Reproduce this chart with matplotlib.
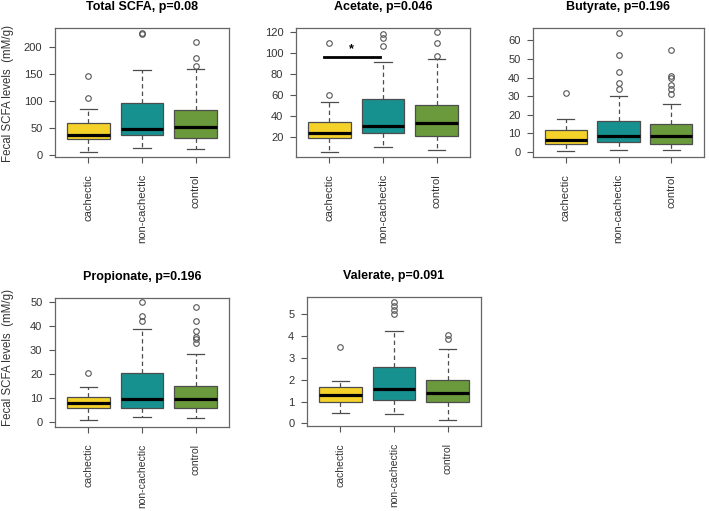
import matplotlib
matplotlib.use('Agg')

import matplotlib.pyplot as plt

plt.rcParams['font.family'] = ['Liberation Sans', 'DejaVu Sans']

groups = ['cachectic', 'non-cachectic', 'control']
colors = ['#F4D22A', '#17918F', '#6A9A3B']

# Total SCFA
total_whislo = [6, 13.5, 11]
total_q1 = [29.5, 38, 32]
total_med = [38, 49, 52]
total_q3 = [58.5, 97, 83]
total_whishi = [85, 157, 159]
total_fliers = [[106, 147], [223, 226], [165, 179, 209]]
total_ticks = [0, 50, 100, 150, 200]

# Acetate
acetate_whislo = [5.6, 10.4, 7.2]
acetate_q1 = [18.4, 23.8, 20.3]
acetate_med = [23.8, 30.5, 33.4]
acetate_q3 = [34.4, 56, 50.4]
acetate_whishi = [53.5, 91.2, 94.4]
acetate_fliers = [[59.6, 110], [106.3, 114, 118.4], [97.6, 109.5, 119.7]]
acetate_ticks = [20, 40, 60, 80, 100, 120]

# Butyrate
butyrate_whislo = [0.4, 1.2, 0.9]
butyrate_q1 = [4.5, 5.3, 4.5]
butyrate_med = [6.2, 8.7, 8.7]
butyrate_q3 = [11.9, 16.4, 15]
butyrate_whishi = [17.6, 30.1, 25.8]
butyrate_fliers = [[31.5], [33.6, 37.2, 43.1, 52, 63.9], [31.2, 33.6, 36, 39.9, 40.8, 54.7]]
butyrate_ticks = [0, 10, 20, 30, 40, 50, 60]

# Propionate
propionate_whislo = [1, 2.4, 1.7]
propionate_q1 = [5.8, 5.8, 6.1]
propionate_med = [8.2, 9.7, 9.7]
propionate_q3 = [10.7, 20.4, 15]
propionate_whishi = [14.9, 38.75, 28.6]
propionate_fliers = [[20.4], [42.4, 44.3, 50.1], [32.9, 34.6, 35.4, 38.2, 42.4, 48.2]]
propionate_ticks = [0, 10, 20, 30, 40, 50]

# Valerate
valerate_whislo = [0.46, 0.43, 0.15]
valerate_q1 = [0.99, 1.07, 0.99]
valerate_med = [1.3, 1.59, 1.41]
valerate_q3 = [1.68, 2.57, 1.99]
valerate_whishi = [1.94, 4.25, 3.41]
valerate_fliers = [[3.49], [5.02, 5.2, 5.38, 5.58], [3.85, 4.05]]
valerate_ticks = [0, 1, 2, 3, 4, 5]

W, H = 709, 511
fig = plt.figure(figsize=(W / 100, H / 100), dpi=100)
edge = '#4d4d4d'


def px_rect(x0, y0, x1, y1):
    return [x0 / W, (H - y1) / H, (x1 - x0) / W, (y1 - y0) / H]


def draw_panel(rect, title, whislo, q1, med, q3, whishi, fliers, ticks, ylim, xsize=8):
    ax = fig.add_axes(px_rect(*rect))
    stats = []
    for i in range(len(groups)):
        stats.append(dict(whislo=whislo[i], q1=q1[i], med=med[i], q3=q3[i],
                          whishi=whishi[i], fliers=fliers[i]))
    bp = ax.bxp(stats, positions=[1, 2, 3], widths=0.8, patch_artist=True,
                capwidths=0.32,
                boxprops=dict(edgecolor=edge, linewidth=0.9),
                medianprops=dict(color='black', linewidth=2.3),
                whiskerprops=dict(color=edge, linestyle=(0, (3.5, 2.5)), linewidth=0.9),
                capprops=dict(color=edge, linewidth=0.9),
                flierprops=dict(marker='o', markerfacecolor='none',
                                markeredgecolor='#555555', markersize=4,
                                markeredgewidth=0.8))
    for patch, c in zip(bp['boxes'], colors):
        patch.set_facecolor(c)
    ax.set_xlim(0.375, 3.625)
    ax.set_ylim(*ylim)
    ax.set_yticks(ticks)
    ax.set_xticks([1, 2, 3])
    ax.set_xticklabels(groups, rotation=90, va='top')
    ax.tick_params(axis='x', length=4.3, width=0.8, color='#555555', pad=8,
                   labelsize=xsize, labelcolor='#333333')
    ax.tick_params(axis='y', length=4.1, width=0.8, color='#555555', pad=5,
                   labelsize=8, labelcolor='#333333')
    for sp in ax.spines.values():
        sp.set_color('#666666')
        sp.set_linewidth(0.9)
    ax.annotate(title, xy=(0.5, 1), xycoords='axes fraction',
                xytext=(0, 14.8), textcoords='offset points',
                ha='center', va='center', fontsize=9, fontweight='bold')
    return ax


draw_panel((55, 28, 229, 157), 'Total SCFA, p=0.08', total_whislo, total_q1,
           total_med, total_q3, total_whishi, total_fliers, total_ticks, (-3.5, 235))
ax2 = draw_panel((296, 28, 470, 157), 'Acetate, p=0.046', acetate_whislo, acetate_q1,
                 acetate_med, acetate_q3, acetate_whishi, acetate_fliers,
                 acetate_ticks, (0.5, 124))
ax2.plot([0.9, 1.95], [96.7, 96.7], color='black', linewidth=2)
ax2.text(1.4, 104, '*', ha='center', va='center', fontsize=9, fontweight='bold')
draw_panel((533, 28, 704, 157), 'Butyrate, p=0.196', butyrate_whislo, butyrate_q1,
           butyrate_med, butyrate_q3, butyrate_whishi, butyrate_fliers,
           butyrate_ticks, (-2.7, 66.6))
draw_panel((55, 297.7, 229, 426.7), 'Propionate, p=0.196', propionate_whislo,
           propionate_q1, propionate_med, propionate_q3, propionate_whishi,
           propionate_fliers, propionate_ticks, (-1.8, 51.9), xsize=7.5)
draw_panel((307, 296.7, 481, 426), 'Valerate, p=0.091', valerate_whislo, valerate_q1,
           valerate_med, valerate_q3, valerate_whishi, valerate_fliers,
           valerate_ticks, (-0.12, 5.81), xsize=7.5)

for yc in (93, 358):
    fig.text(8 / W, 1 - yc / H, 'Fecal SCFA levels  (mM/g)', rotation=90,
             ha='center', va='center', fontsize=8.3, color='#333333')

fig.savefig('out.png', dpi=100)
